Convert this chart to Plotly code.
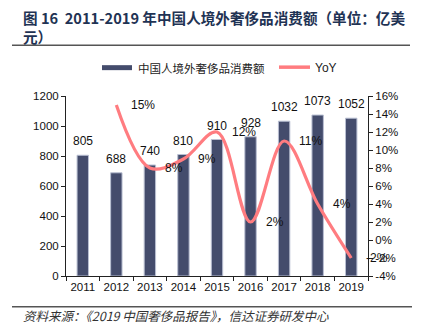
import plotly.graph_objects as go

# 2011-2019 Chinese overseas luxury spending (100M USD) and YoY growth
years = ["2011", "2012", "2013", "2014", "2015", "2016", "2017", "2018", "2019"]
spending = [805, 688, 740, 810, 910, 928, 1032, 1073, 1052]
yoy_years = ["2012", "2013", "2014", "2015", "2016", "2017", "2018", "2019"]
yoy = [15, 8, 9, 12, 2, 11, 4, -2]

left_ticks = [0, 200, 400, 600, 800, 1000, 1200]
right_ticks = [-4, -2, 0, 2, 4, 6, 8, 10, 12, 14, 16]

BAR = "#444C6C"
LINE = "#FF7C80"
FONT = "Liberation Sans, Arial, sans-serif"
CJK = "Noto Sans CJK SC, sans-serif"

W, H = 426, 332
ML, MR, MT, MB = 66, 58, 95.5, 55.5
PW, PH = W - ML - MR, H - MT - MB


def fx(x):
    """Figure pixel x -> paper x."""
    return (x - ML) / PW


def fy(y):
    """Figure pixel y (from top) -> paper y."""
    return (H - MB - y) / PH


fig = go.Figure()
fig.add_trace(go.Bar(
    x=years, y=spending, name="中国人境外奢侈品消费额",
    marker=dict(color=BAR, line=dict(color="#B9BFD2", width=1)),
    width=0.34, showlegend=False,
))
fig.add_trace(go.Scatter(
    x=yoy_years, y=yoy, name="YoY", yaxis="y2", mode="lines",
    line=dict(color=LINE, width=3.2, shape="spline", smoothing=1.0),
    showlegend=False,
))

annotations = []
for yr, v in zip(years, spending):
    annotations.append(dict(x=years.index(yr), y=v, xref="x", yref="y", text=str(v),
                            showarrow=False, yshift=14,
                            font=dict(family=FONT, size=12, color="#111")))
for yr, v in zip(yoy_years, yoy):
    annotations.append(dict(x=years.index(yr), y=v, xref="x", yref="y2", text=f"{v}%",
                            showarrow=False, xanchor="left", xshift=13,
                            font=dict(family=FONT, size=12, color="#111")))

# title, legend and source
annotations.append(dict(
    x=fx(21), y=fy(4), xref="paper", yref="paper", xanchor="left", yanchor="top",
    align="left", showarrow=False,
    text="<b>图 16  2011-2019 年中国人境外奢侈品消费额（单位：亿美<br>元）</b>",
    font=dict(family=CJK, size=14.6, color="#1F3354"),
))
annotations.append(dict(
    x=fx(136), y=fy(67), xref="paper", yref="paper", xanchor="left", yanchor="middle",
    showarrow=False, text="中国人境外奢侈品消费额",
    font=dict(family=CJK, size=11.5, color="#222"),
))
annotations.append(dict(
    x=fx(313), y=fy(67), xref="paper", yref="paper", xanchor="left", yanchor="middle",
    showarrow=False, text="YoY",
    font=dict(family=FONT, size=12, color="#222"),
))
annotations.append(dict(
    x=fx(21), y=fy(316), xref="paper", yref="paper", xanchor="left", yanchor="middle",
    showarrow=False, text="<i>资料来源：《2019 中国奢侈品报告》，信达证券研发中心</i>",
    font=dict(family=CJK, size=12.5, color="#333"),
))

shapes = [
    dict(type="line", xref="paper", yref="paper", x0=fx(12), x1=fx(410),
         y0=fy(44.5), y1=fy(44.5), line=dict(color="#555", width=1.5)),
    dict(type="line", xref="paper", yref="paper", x0=fx(12), x1=fx(412),
         y0=fy(307.5), y1=fy(307.5), line=dict(color="#555", width=1.5)),
    dict(type="rect", xref="paper", yref="paper", x0=fx(102), x1=fx(132),
         y0=fy(69.5), y1=fy(64.5), fillcolor=BAR, line=dict(width=0)),
    dict(type="line", xref="paper", yref="paper", x0=fx(279), x1=fx(310),
         y0=fy(66.5), y1=fy(66.5), line=dict(color=LINE, width=3.5)),
]

axis_font = dict(family=FONT, size=11.5, color="#111")
fig.update_layout(
    width=W, height=H,
    margin=dict(l=ML, r=MR, t=MT, b=MB),
    paper_bgcolor="white", plot_bgcolor="white",
    xaxis=dict(type="category", range=[-0.5, len(years) - 0.5], showline=True,
               linecolor="#222", linewidth=1, ticks="outside", tickson="boundaries",
               ticklen=4, tickcolor="#222", tickfont=axis_font, showgrid=False,
               zeroline=False, tickangle=0),
    yaxis=dict(range=[0, 1200], tickvals=left_ticks, showline=True, linecolor="#222",
               linewidth=1, ticks="outside", ticklen=4, tickcolor="#222",
               tickfont=axis_font, showgrid=False, zeroline=False),
    yaxis2=dict(range=[-4, 16], tickvals=right_ticks, ticktext=[f"{t}%" for t in right_ticks],
                overlaying="y", side="right", showline=True, linecolor="#222", linewidth=1,
                ticks="outside", ticklen=4, tickcolor="#222", tickfont=axis_font,
                showgrid=False, zeroline=False),
    annotations=annotations,
    shapes=shapes,
    showlegend=False,
)

fig.write_html("out.html")
